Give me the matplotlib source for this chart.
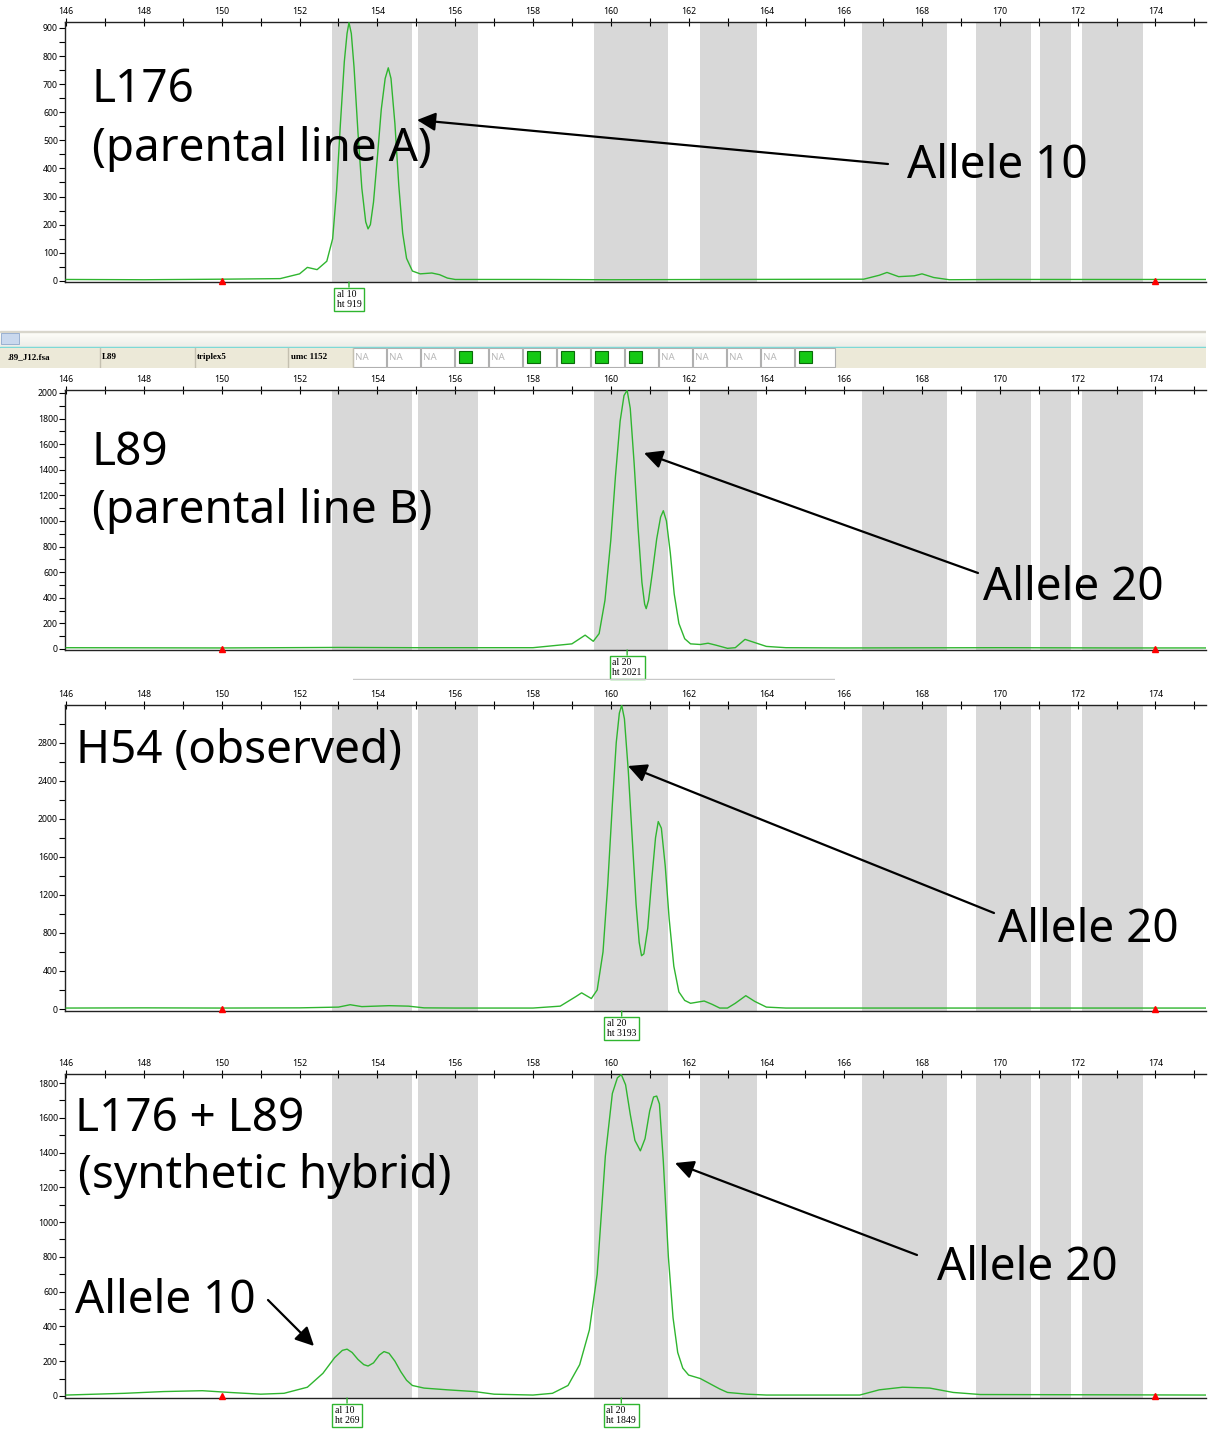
import numpy as np
import matplotlib
matplotlib.use('Agg')
import matplotlib.pyplot as plt
from matplotlib.patches import Rectangle
from matplotlib.ticker import MultipleLocator

plt.rcParams['font.family'] = ['Noto Sans', 'DejaVu Sans']

W, H = 1210, 1434

# bin windows (size, bp)
bin_starts = [152.84, 155.05, 159.57, 162.30, 166.46, 169.39, 171.04, 172.12]
bin_ends = [154.89, 156.59, 161.48, 163.76, 168.65, 170.81, 171.84, 173.69]

# traces: size (bp) and height (rfu)
l176_x = [146.0, 148.0, 150.0, 151.5, 152.0, 152.2, 152.45, 152.7, 152.85, 152.95, 153.05, 153.15,
          153.22, 153.27, 153.33, 153.4, 153.5, 153.6, 153.7, 153.76, 153.82, 153.9, 154.0, 154.1,
          154.2, 154.28, 154.35, 154.45, 154.55, 154.65, 154.75, 154.9,
          155.1, 155.4, 155.6, 155.8, 156.0, 158.0, 160.0, 163.0, 166.5, 166.9, 167.1, 167.4, 167.8,
          168.0, 168.3, 168.7, 170.0, 174.0, 175.3]
l176_y = [5, 4, 6, 8, 25, 48, 40, 70, 150, 320, 560, 780,
          880, 919, 880, 760, 530, 330, 210, 185, 200, 280, 440, 610,
          720, 758, 720, 560, 340, 170, 80, 35,
          25, 28, 22, 10, 5, 5, 4, 5, 6, 20, 30, 15, 18,
          25, 12, 4, 5, 5, 5]

l89_x = [146.0, 150.0, 153.0, 155.0, 158.0, 159.0, 159.34, 159.55, 159.7, 159.85, 160.0, 160.12,
         160.24, 160.34, 160.42, 160.5, 160.6, 160.7, 160.8, 160.87, 160.91, 160.97, 161.07, 161.18,
         161.28, 161.35, 161.43, 161.53, 161.63, 161.75, 161.9, 162.05,
         162.3, 162.5, 162.7, 163.0, 163.2, 163.45, 163.7, 164.0, 164.5, 166.0, 170.0, 173.0, 175.3]
l89_y = [10, 8, 12, 10, 10, 40, 108, 60, 120, 380, 850, 1350,
         1780, 1980, 2021, 1880, 1450, 950, 520, 350, 315, 380, 600, 860,
         1030, 1080, 1000, 750, 430, 200, 80, 40,
         35, 45, 30, 5, 10, 75, 50, 20, 10, 8, 10, 8, 8]

h54_x = [146.0, 148.0, 150.0, 152.0, 153.0, 153.3, 153.6, 154.3, 154.8, 155.2, 156.0, 158.0,
         158.7, 159.1, 159.25, 159.5, 159.65, 159.8, 159.92, 160.04, 160.14, 160.22, 160.28, 160.35,
         160.45, 160.55, 160.65, 160.73, 160.79, 160.85, 160.95, 161.05, 161.15, 161.22, 161.3,
         161.4, 161.5, 161.62, 161.75, 161.9, 162.05, 162.4, 162.6, 162.8,
         163.0, 163.2, 163.47, 163.7, 164.0, 164.5, 170.0, 175.3]
h54_y = [10, 12, 10, 12, 20, 45, 25, 35, 30, 12, 10, 10,
         30, 130, 170, 110, 200, 600, 1300, 2150, 2800, 3110, 3193, 3050,
         2500, 1800, 1100, 700, 560, 580, 850, 1350, 1800, 1970, 1900,
         1500, 950, 450, 180, 90, 60, 84, 50, 10,
         10, 60, 140, 80, 20, 10, 10, 10]

hyb_x = [146.0, 147.5, 148.5, 149.5, 150.2, 151.0, 151.6, 152.2, 152.6, 152.9, 153.1, 153.22,
         153.35, 153.5, 153.65, 153.76, 153.9, 154.05, 154.17, 154.3, 154.45, 154.6, 154.75, 154.9,
         155.2, 155.8, 156.5, 157.0, 158.0,
         158.5, 158.9, 159.2, 159.45, 159.65, 159.86, 160.04, 160.17, 160.27, 160.38, 160.5, 160.62,
         160.76, 160.88, 161.0, 161.1, 161.18, 161.25, 161.35, 161.48, 161.6, 161.72, 161.85, 162.0,
         162.3, 162.8, 163.0, 163.5, 164.0, 166.4,
         166.9, 167.5, 168.2, 168.8, 169.5, 175.3]
hyb_y = [5, 15, 25, 30, 20, 10, 15, 50, 130, 220, 262, 269,
         250, 210, 180, 172, 190, 235, 255, 245, 200, 140, 90, 60,
         45, 35, 25, 10, 5,
         15, 60, 180, 380, 700, 1380, 1740, 1830, 1849, 1790, 1620, 1470,
         1410, 1480, 1640, 1720, 1725, 1680, 1350, 800, 450, 250, 160, 120,
         100, 40, 20, 10, 5, 5,
         35, 50, 45, 20, 8, 5]

traces = [(l176_x, l176_y), (l89_x, l89_y), (h54_x, h54_y), (hyb_x, hyb_y)]

# called alleles per panel: (size, allele, height)
calls = [[(153.27, 10, 919)], [(160.42, 20, 2021)], [(160.28, 20, 3193)],
         [(153.22, 10, 269), (160.27, 20, 1849)]]

ymax = [921, 2023, 3195, 1852]
ymin = [-4, -8, -21, -12]
ymajor = [100, 200, 400, 200]
ladder_marks = [150.0, 174.0]

panel_px = [(22, 282), (390, 650), (705, 1011), (1074, 1398)]

fig = plt.figure(figsize=(W / 100, H / 100), dpi=100, facecolor='white')


def fig_rect(x0, y0, x1, y1):
    return [x0 / W, 1 - y1 / H, (x1 - x0) / W, (y1 - y0) / H]


green = '#2fb52f'
axes = []
for i, (top, bot) in enumerate(panel_px):
    ax = fig.add_axes(fig_rect(65, top, 1206, bot))
    for s, e in zip(bin_starts, bin_ends):
        ax.axvspan(s, e, color='#d8d8d8', lw=0, zorder=0)
    tx, ty = traces[i]
    ax.plot(tx, ty, color=green, lw=1.0, zorder=3)
    ax.plot(ladder_marks, [0, 0], ls='none', marker='^', color='red', ms=4,
            clip_on=False, zorder=4)
    ax.set_xlim(146 - 0.03, 175.3)
    ax.set_ylim(ymin[i], ymax[i])
    ax.xaxis.tick_top()
    ax.xaxis.set_major_locator(MultipleLocator(2))
    ax.xaxis.set_minor_locator(MultipleLocator(1))
    ax.yaxis.set_major_locator(MultipleLocator(ymajor[i]))
    ax.yaxis.set_minor_locator(MultipleLocator(ymajor[i] / 2))
    ax.tick_params(axis='x', which='both', direction='inout', length=6, width=0.8,
                   labelsize=6.3, pad=1)
    ax.tick_params(axis='y', which='both', direction='out', length=4, width=0.8,
                   labelsize=6.3, pad=1)
    ax.spines['right'].set_visible(False)
    for sp in ['top', 'bottom', 'left']:
        ax.spines[sp].set_linewidth(1.0)
        ax.spines[sp].set_color('#222222')
    for sx, al, ht in calls[i]:
        ax.annotate('al %d\nht %d' % (al, ht), xy=(sx, 0), xycoords=('data', 'axes fraction'),
                    xytext=(0, -6), textcoords='offset points', ha='center', va='top',
                    fontsize=7.0, family=['Liberation Serif', 'DejaVu Serif'],
                    multialignment='left', linespacing=1.05,
                    bbox=dict(boxstyle='square,pad=0.28', fc='white', ec=green, lw=1.0),
                    arrowprops=dict(arrowstyle='-', color=green, lw=1.0, shrinkA=0, shrinkB=0),
                    annotation_clip=False)
    axes.append(ax)

# separator strip between first and second panel
strip = fig.add_axes(fig_rect(0, 330, 1206, 368))
strip.set_xlim(0, 1206)
strip.set_ylim(368, 330)
strip.axis('off')
grad = np.linspace(1.0, 0.93, 16).reshape(-1, 1)
strip.imshow(np.dstack([grad, grad, grad * 0.98]), extent=(0, 1206, 347, 331), aspect='auto')
strip.add_patch(Rectangle((0, 331), 1206, 1, color='#d8d6cc'))
strip.add_patch(Rectangle((0, 346.5), 1206, 1.6, color='#62d6d6'))
strip.add_patch(Rectangle((0, 348), 1206, 20, color='#ece9d8'))
strip.add_patch(Rectangle((1, 333), 18, 11, fc='#c9d8ee', ec='#8fa8cc', lw=0.6))
cell_edges = [100, 195, 288, 353]
for cx in cell_edges:
    strip.plot([cx, cx], [348, 367], color='#c4c0b0', lw=1)
for cx, lab in zip([8, 102, 197, 291], ['.89_J12.fsa', 'L89', 'triplex5', 'umc 1152']):
    strip.text(cx, 357, lab, fontsize=6.5, fontweight='bold', va='center',
               family=['Liberation Serif', 'DejaVu Serif'])
status = ['NA', 'NA', 'NA', 'ok', 'NA', 'ok', 'ok', 'ok', 'ok', 'NA', 'NA', 'NA', 'NA', 'ok']
for k, st in enumerate(status):
    x0 = 353 + k * 34
    w = 33 if k < len(status) - 1 else 40
    strip.add_patch(Rectangle((x0, 348), w, 19, fc='white', ec='#b0b0b0', lw=0.8))
    if st == 'NA':
        strip.text(x0 + 2, 357.5, 'NA', fontsize=7, color='#b8b8b8', va='center')
    else:
        strip.add_patch(Rectangle((x0 + 4, 351), 13, 12, fc='#14c814', ec='#0a6a0a', lw=0.8))

# thin divider above third panel
div = fig.add_axes(fig_rect(353, 678, 835, 680))
div.axis('off')
div.axhline(0.5, color='#c8c8c8', lw=1)


def put(x, y, s):
    fig.text(x / W, 1 - y / H, s, fontsize=33, ha='left', va='baseline')


def arrow(tail, tip):
    fig.add_artist(matplotlib.patches.FancyArrowPatch(
        (tail[0] / W, 1 - tail[1] / H), (tip[0] / W, 1 - tip[1] / H),
        transform=fig.transFigure, arrowstyle='-|>', mutation_scale=28,
        color='black', lw=1.6, shrinkA=0, shrinkB=0))


put(91, 102, 'L176')
put(92, 161, '(parental line A)')
put(907, 178, 'Allele 10')
arrow((888, 164), (417, 120))

put(91, 465, 'L89')
put(92, 523, '(parental line B)')
put(983, 600, 'Allele 20')
arrow((978, 573), (644, 453))

put(76, 763, 'H54 (observed)')
put(998, 942, 'Allele 20')
arrow((994, 913), (628, 766))

put(75, 1131, 'L176 + L89')
put(78, 1188, '(synthetic hybrid)')
put(937, 1280, 'Allele 20')
put(75, 1313, 'Allele 10')
arrow((917, 1255), (675, 1163))
arrow((268, 1300), (314, 1346))

fig.savefig('out.png', dpi=100, facecolor='white')
